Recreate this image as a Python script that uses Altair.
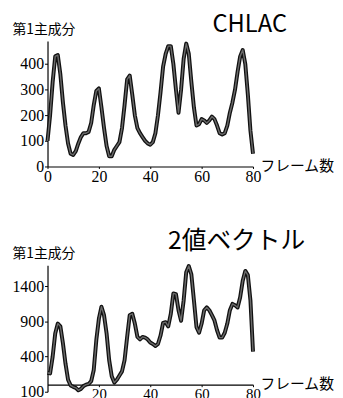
import altair as alt
import pandas as pd

frames = list(range(81))
chlac = [100, 200, 330, 430, 435, 360, 250, 160, 90, 50,
         45, 60, 90, 115, 130, 130, 135, 170, 240, 295,
         305, 230, 150, 80, 40, 40, 65, 80, 95, 150,
         240, 340, 355, 280, 200, 150, 130, 115, 100, 90,
         85, 95, 130, 200, 290, 390, 440, 470, 470, 400,
         300, 210, 300, 420, 480, 440, 330, 230, 160, 165,
         185, 180, 170, 180, 195, 185, 160, 130, 125, 130,
         160, 210, 250, 300, 370, 430, 455, 400, 280, 140,
         50]
binary = [170, 160, 400, 730, 870, 830, 590, 300, 70, -10,
          -30, -45, -80, -60, -20, 0, 10, 50, 210, 635,
          940, 1110, 990, 730, 350, 120, 30, 70, 130, 190,
          350, 680, 990, 1010, 870, 680, 645, 680, 670, 645,
          600, 580, 550, 580, 700, 880, 890, 830, 1010, 1300,
          1290, 1060, 910, 1200, 1600, 1690, 1570, 1200, 820, 740,
          870, 1060, 1100, 1060, 990, 915, 775, 670, 670, 740,
          870, 1060, 1150, 1130, 1100, 1245, 1480, 1620, 1560, 1200,
          470]

top_yticks = [0, 100, 200, 300, 400]
bot_yticks = [-100, 400, 900, 1400]
top_xticks = [0, 20, 40, 60, 80]
bot_xticks = [20, 40, 60, 80]

W = 208
TOP_H = 127
BOT_H = 128
SERIF = "Liberation Serif"
CJK = "Noto Sans CJK JP"


def panel(values, ydom, yticks, xticks, title_text, title_dx, title_dy, title_size, h,
          xoffset=None, ylabel_expr=None, xlabel_size=16, xtick=2, xpad=0):
    df = pd.DataFrame({"frame": frames, "value": values})
    xaxis_kw = dict(values=xticks, format="d", title="フレーム数", titleX=W + 7, titleY=-1,
                    titleAlign="left", titleBaseline="middle", titleAngle=0,
                    titleFont=CJK, titleFontSize=15, titleFontWeight="normal",
                    labelFont=SERIF, labelFontSize=xlabel_size, labelPadding=xpad,
                    labelFlush=False, tickSize=xtick)
    if xoffset is not None:
        xaxis_kw["offset"] = xoffset
    yaxis_kw = dict(values=yticks, format="d", title="第1主成分", titleX=-36, titleY=-12,
                    titleAlign="left", titleBaseline="middle", titleAngle=0,
                    titleFont=CJK, titleFontSize=14, titleFontWeight="normal",
                    labelFont=SERIF, labelFontSize=16, labelPadding=1, tickSize=3)
    if ylabel_expr is not None:
        yaxis_kw["labelExpr"] = ylabel_expr
    x = alt.X("frame:Q", scale=alt.Scale(domain=[0, 80], nice=False, zero=False),
              axis=alt.Axis(**xaxis_kw))
    y = alt.Y("value:Q", scale=alt.Scale(domain=ydom, nice=False, zero=False),
              axis=alt.Axis(**yaxis_kw))
    base = alt.Chart(df)
    outer = base.mark_line(color="#111111", strokeWidth=4, strokeJoin="round").encode(x=x, y=y)
    inner = base.mark_line(color="#6a6a6a", strokeWidth=1.4, strokeJoin="round").encode(x=x, y=y)
    return alt.layer(outer, inner).properties(
        width=W, height=h,
        title=alt.TitleParams(title_text, anchor="start", frame="group", dx=title_dx, dy=title_dy,
                              font=CJK, fontSize=title_size, fontWeight="normal",
                              color="black", align="left"),
    )


top = panel(chlac, [0, 490], top_yticks, top_xticks, "CHLAC", 167, 19, 24, TOP_H)
bottom = panel(binary, [-100, 1700], bot_yticks, bot_xticks, "2値ベクトル", 122, 12, 25, BOT_H,
               xoffset=-(BOT_H * 100 / 1800), ylabel_expr="datum.value < 0 ? '100' : datum.label",
               xlabel_size=15)

chart = alt.vconcat(top, bottom, spacing=100, bounds="flush").properties(
    padding={"left": 4, "top": 3, "right": 0, "bottom": 0}, background="white"
).configure_view(stroke=None).configure_axis(
    domainColor="black", tickColor="black", labelColor="black", titleColor="black",
    grid=False, domainWidth=1.2,
)

chart.save("out.html", embed_options={"renderer": "svg", "actions": False})
